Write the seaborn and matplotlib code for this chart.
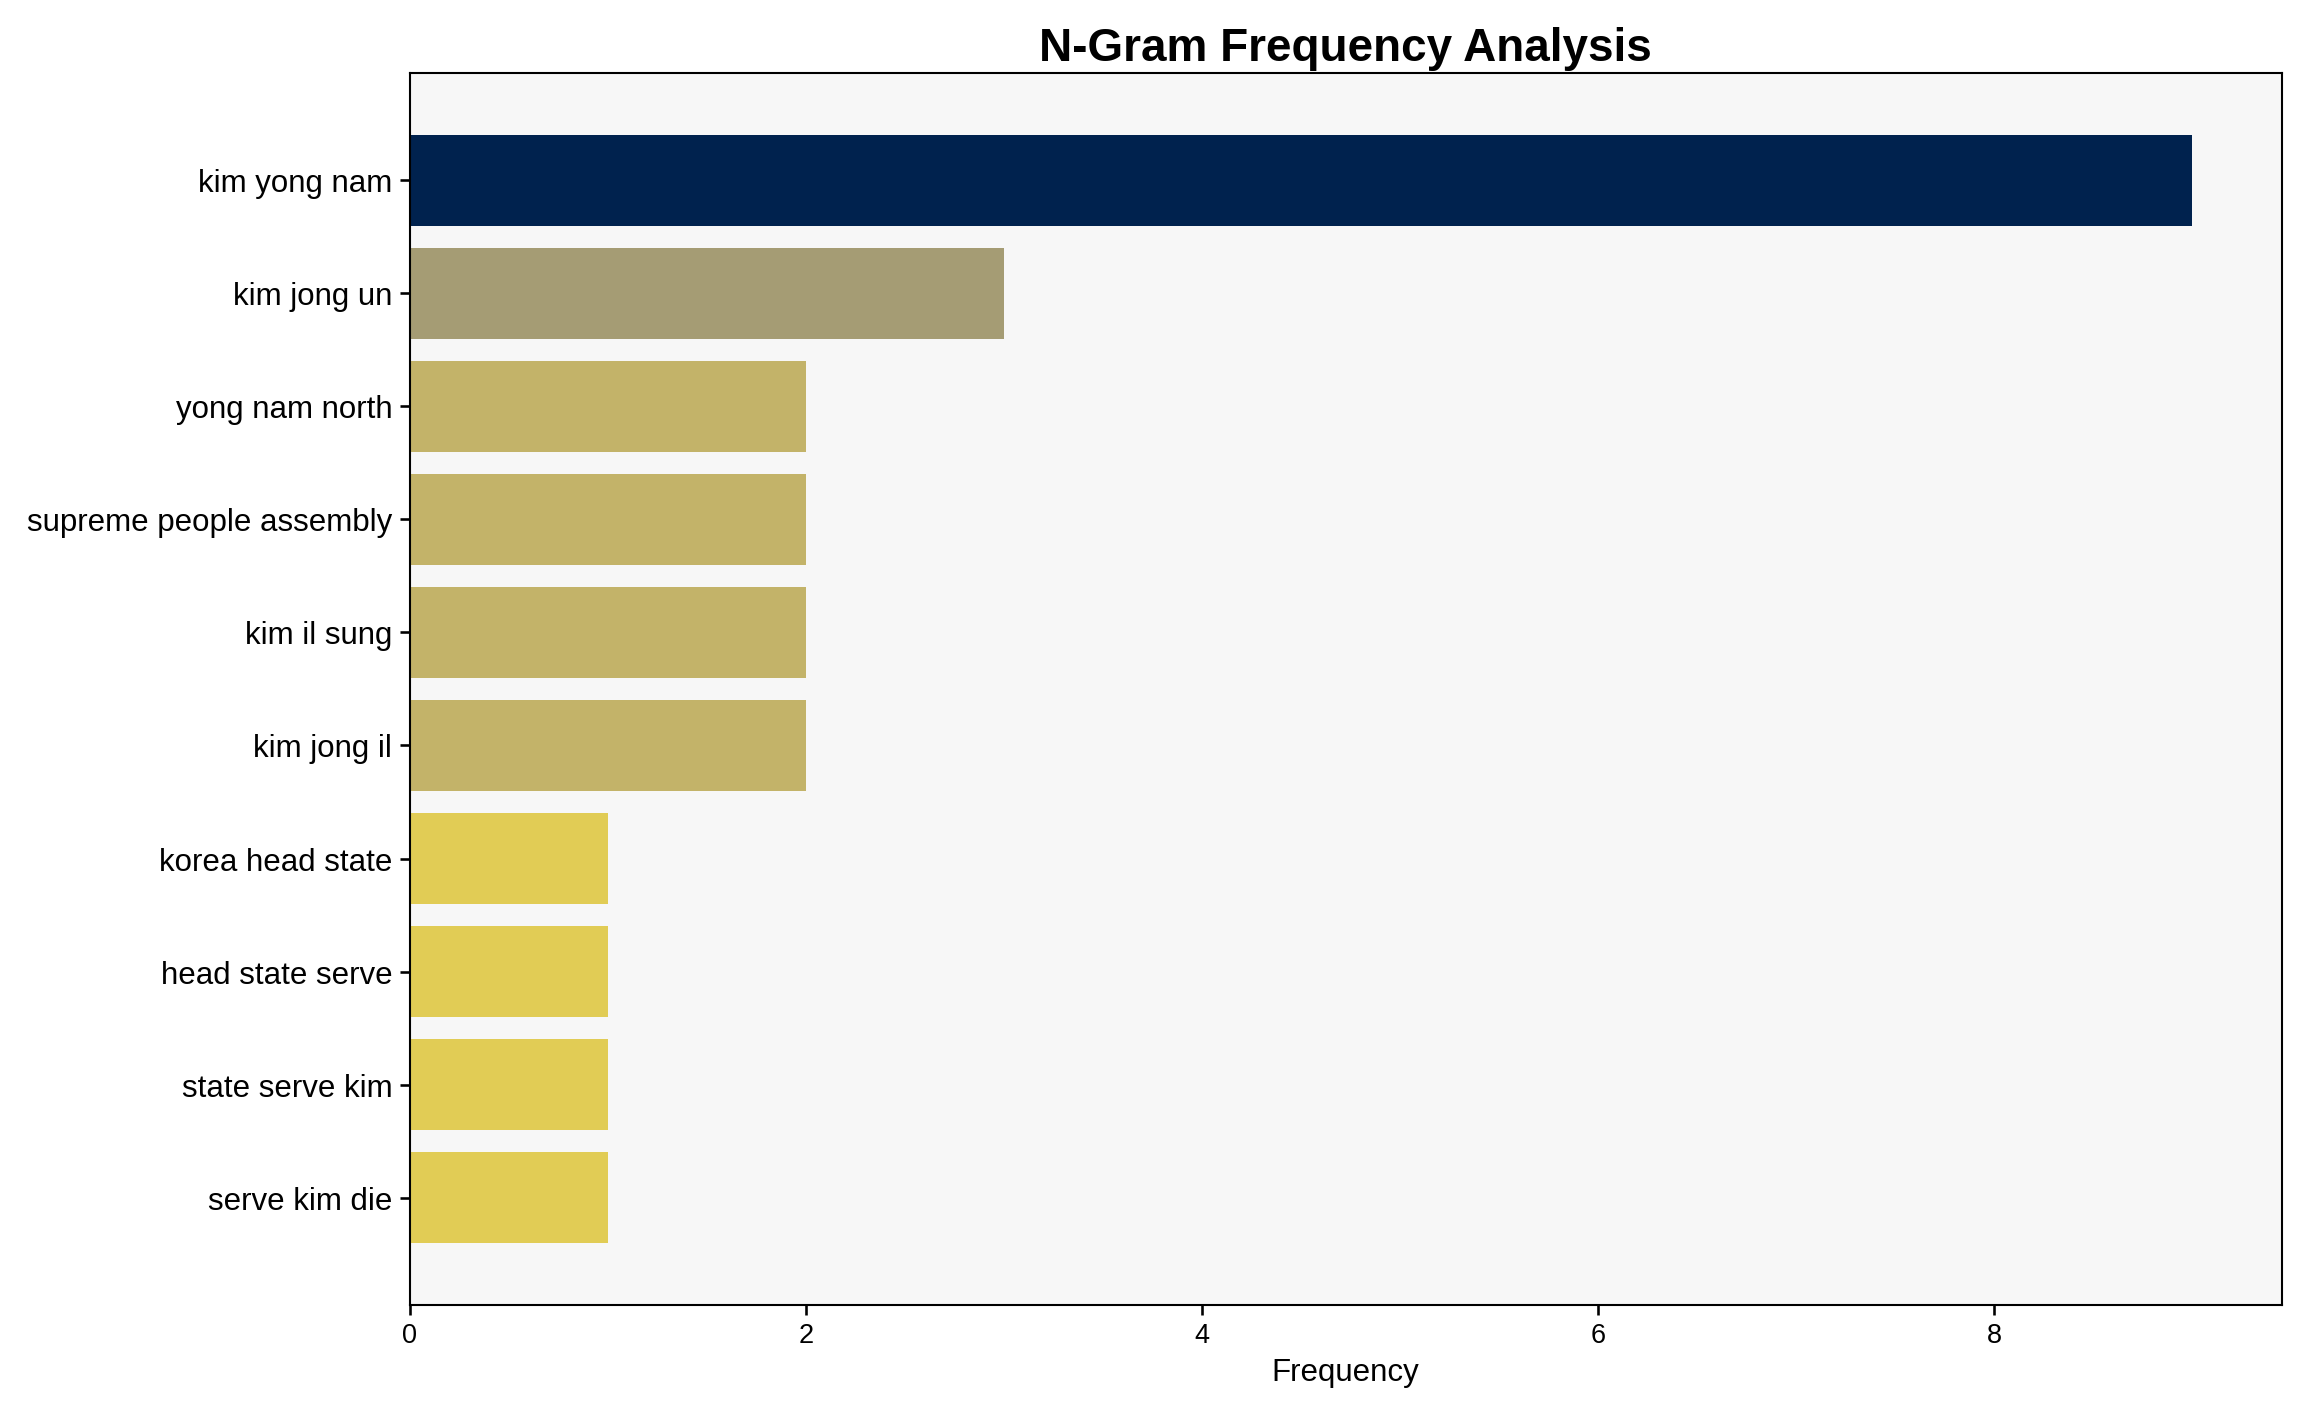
import matplotlib
matplotlib.use("Agg")
import matplotlib.pyplot as plt
import seaborn as sns
import pandas as pd

ngrams = ["kim yong nam", "kim jong un", "yong nam north", "supreme people assembly",
          "kim il sung", "kim jong il", "korea head state", "head state serve",
          "state serve kim", "serve kim die"]
counts = [9, 3, 2, 2, 2, 2, 1, 1, 1, 1]

sns.set_theme(style="white")
plt.rcParams['font.family'] = ['Liberation Sans', 'DejaVu Sans']
plt.rcParams['text.color'] = 'black'
plt.rcParams['axes.labelcolor'] = 'black'
plt.rcParams['xtick.color'] = 'black'
plt.rcParams['ytick.color'] = 'black'

df = pd.DataFrame({"ngram": ngrams, "count": counts})
cmap = plt.get_cmap("cividis")
colors = [cmap(1 - c / max(counts)) for c in counts]

fig, ax = plt.subplots(figsize=(15.39, 9.43), dpi=150)
ax.set_facecolor("#f7f7f7")
sns.barplot(data=df, x="count", y="ngram", hue="ngram", palette=colors,
            legend=False, ax=ax, width=0.8, saturation=1, linewidth=0)
ax.set_ylim(len(ngrams) - 1 + 0.95, -0.95)
ax.set_title("N-Gram Frequency Analysis", fontsize=22, fontweight="bold")
ax.set_xlabel("Frequency", fontsize=15)
ax.set_ylabel("")
ax.tick_params(axis="y", labelsize=15, left=True, length=5)
ax.tick_params(axis="x", labelsize=13, bottom=True, length=5)
for s in ax.spines.values():
    s.set_color("black")
    s.set_linewidth(1)
fig.tight_layout()
fig.savefig("out.png", dpi=150)
